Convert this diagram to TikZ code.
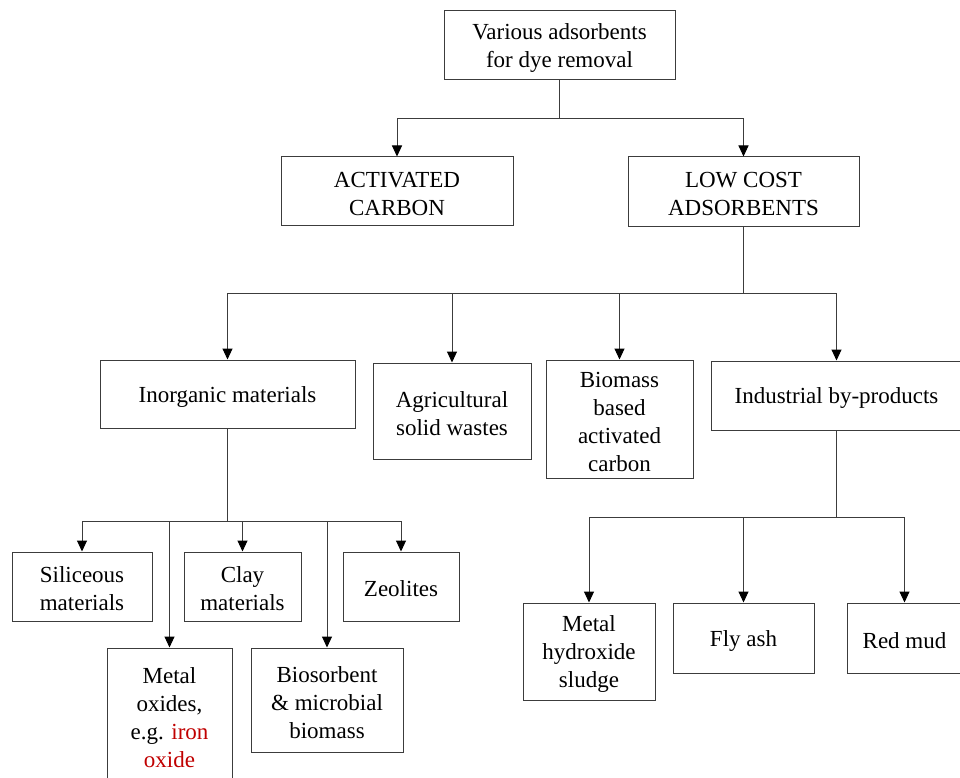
\documentclass[tikz,border=0pt]{standalone}
\usepackage{fontspec}
\setmainfont{Liberation Serif}
\usepackage{tikz}
\usetikzlibrary{arrows.meta}
\definecolor{ironred}{RGB}{192,0,0}
\definecolor{edgegray}{RGB}{60,60,60}
\newcommand{\lift}{\rule{0pt}{21pt}}

\begin{document}
\begin{tikzpicture}[x=1pt,y=-1pt,
  box/.style={draw=edgegray,line width=1pt,align=center,inner sep=0pt,
    font=\fontsize{23}{28}\selectfont},
  arr/.style={draw=edgegray,line width=1pt,
    -{Triangle[length=11pt,width=10pt,color=black]}}]
  \useasboundingbox (0,0) rectangle (960,778);
  %\draw (0,0) rectangle (960,778);
  \node[box,minimum width=231,minimum height=69] (top) at (559.5,45.5) {\lift Various adsorbents\\for dye removal};
  \node[box,minimum width=232,minimum height=68] (act) at (397,191) {\lift ACTIVATED\\CARBON};
  \node[box,minimum width=231,minimum height=69] (low) at (743.5,191.5) {\lift LOW COST\\ADSORBENTS};
  \node[box,minimum width=255,minimum height=68] (inorg) at (227.5,394) {\lift Inorganic materials};
  \node[box,minimum width=158,minimum height=96] (agri) at (452,411) {\lift Agricultural\\solid wastes};
  \node[box,minimum width=147,minimum height=118] (biom) at (619.5,419) {\lift Biomass\\based\\activated\\carbon};
  \node[box,minimum width=251,minimum height=69] (indus) at (836.5,395.5) {\lift Industrial by-products};
  \node[box,minimum width=140,minimum height=69] (sil) at (82,586.5) {\lift Siliceous\\materials};
  \node[box,minimum width=117,minimum height=69] (clay) at (242.5,586.5) {\lift Clay\\materials};
  \node[box,minimum width=116,minimum height=69] (zeo) at (401,586.5) {\lift Zeolites};
  \node[box,minimum width=125,minimum height=134] (metal) at (169.5,715) {\lift Metal\\oxides,\\e.g. \textcolor{ironred}{iron}\\\textcolor{ironred}{oxide}};
  \node[box,minimum width=152,minimum height=104] (bios) at (327,700) {\lift Biosorbent\\\& microbial\\biomass};
  \node[box,minimum width=132,minimum height=97] (mhs) at (589,651.5) {\lift Metal\\hydroxide\\sludge};
  \node[box,minimum width=141,minimum height=70] (fly) at (743.5,638) {\lift Fly ash};
  \node[box,minimum width=115,minimum height=70] (red) at (904.5,638) {\lift Red mud};

  \foreach \n in {act,low}
    \draw[arr] (top.south) -- ++(0,38) -| (\n.north);
  \foreach \n in {inorg,agri,biom,indus}
    \draw[arr] (low.south) -- ++(0,67) -| (\n.north);
  \foreach \n in {sil,metal,clay,bios,zeo}
    \draw[arr] (inorg.south) -- ++(0,93) -| (\n.north);
  \foreach \n in {mhs,fly,red}
    \draw[arr] (indus.south) -- ++(0,87) -| (\n.north);
\end{tikzpicture}
\end{document}
